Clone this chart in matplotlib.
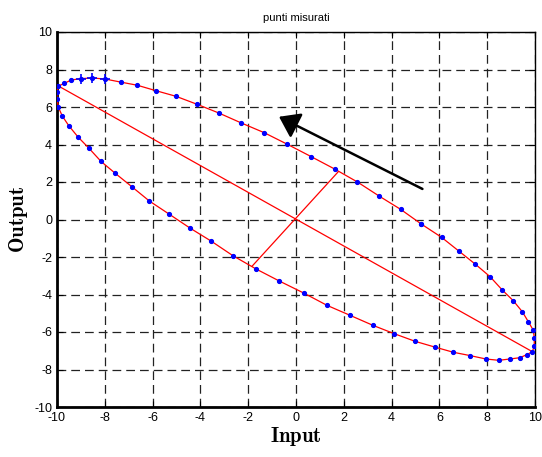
import matplotlib
matplotlib.use("Agg")
import matplotlib.pyplot as plt

plt.rcParams['mathtext.fontset'] = 'cm'
plt.rcParams['font.family'] = ['Liberation Sans', 'DejaVu Sans']
plt.rcParams['axes.unicode_minus'] = False

# measured points, in order around the loop (upper branch right->left, then lower)
x_meas = [5.24, 4.38, 3.49, 2.57, 1.62, 0.64, -0.36, -1.33, -2.31, -3.23, -4.13,
          -5.02, -5.86, -6.64, -7.34, -7.98, -8.54, -9.00, -9.41, -9.69, -9.94,
          -10.0, -10.0, -9.94, -9.78, -9.50, -9.12, -8.67, -8.16, -7.56, -6.87,
          -6.14, -5.30, -4.42, -3.54, -2.64, -1.67, -0.70, 0.32, 1.30, 2.26,
          3.21, 4.11, 4.99, 5.80, 6.58, 7.29, 7.95, 8.48, 8.95, 9.37, 9.65,
          9.89, 9.97, 9.97, 9.93, 9.72, 9.47, 9.09, 8.63, 8.12, 7.51, 6.83,
          6.09, 5.24]
y_meas = [-0.24, 0.54, 1.24, 2.00, 2.69, 3.35, 4.01, 4.63, 5.16, 5.68, 6.14,
          6.57, 6.87, 7.16, 7.33, 7.49, 7.55, 7.51, 7.44, 7.26, 7.12,
          6.82, 6.41, 5.98, 5.52, 4.99, 4.40, 3.81, 3.10, 2.46, 1.75,
          0.99, 0.28, -0.47, -1.16, -1.93, -2.64, -3.28, -3.92, -4.58, -5.11,
          -5.64, -6.09, -6.50, -6.80, -7.08, -7.26, -7.44, -7.51, -7.44, -7.37, -7.21,
          -7.05, -6.75, -6.32, -5.91, -5.45, -4.92, -4.33, -3.76, -3.05, -2.39, -1.70,
          -0.95, -0.24]

# extra '+' markers near the top
x_plus = [-9.00, -8.54, -7.98]
y_plus = [7.51, 7.55, 7.49]

# ellipse axes
major_x = [-9.94, 9.89]
major_y = [7.12, -7.05]
minor_x = [-1.83, 1.77]
minor_y = [-2.48, 2.55]

# direction arrow (tail -> head)
arrow_tail = (5.29, 1.63)
arrow_head = (-0.71, 5.48)

ticks = [-10, -8, -6, -4, -2, 0, 2, 4, 6, 8, 10]

fig = plt.figure(figsize=(5.42, 4.57), dpi=100)
ax = fig.add_axes([57/542, 1-407/457, (535-57)/542, (407-32)/457])

ax.plot(x_meas, y_meas, '-', color='red', lw=0.9, zorder=3)
ax.plot(x_meas, y_meas, '.', color='blue', ms=5.5, zorder=4)
ax.plot(x_plus, y_plus, '+', color='blue', ms=7, mew=1.2, zorder=4)
ax.plot(major_x, major_y, '-', color='red', lw=0.9, zorder=3)
ax.plot(minor_x, minor_y, '-', color='red', lw=0.9, zorder=3)

ax.annotate('', xy=arrow_head, xytext=arrow_tail,
            arrowprops=dict(arrowstyle='-|>,head_length=0.5,head_width=0.35',
                            color='black', lw=1.8,
                            mutation_scale=24, shrinkA=0, shrinkB=0), zorder=5)

ax.set_xlim(-10, 10)
ax.set_ylim(-10, 10)
ax.set_xticks(ticks)
ax.set_yticks(ticks)
ax.tick_params(direction='in', top=True, right=True, labelsize=9, length=4, width=0.8)
ax.grid(True, color='#222222', linestyle=(0, (7, 4)), lw=0.9)
ax.spines['left'].set_linewidth(2.0)
ax.spines['bottom'].set_linewidth(2.0)
ax.spines['top'].set_linewidth(1.0)
ax.spines['right'].set_linewidth(1.0)

ax.set_title('punti misurati', fontsize=8, pad=8)
ax.set_xlabel(r'$\mathbf{Input}$', fontsize=15, labelpad=1)
ax.set_ylabel(r'$\mathbf{Output}$', fontsize=15, labelpad=3)

fig.savefig('out.png', dpi=100)
